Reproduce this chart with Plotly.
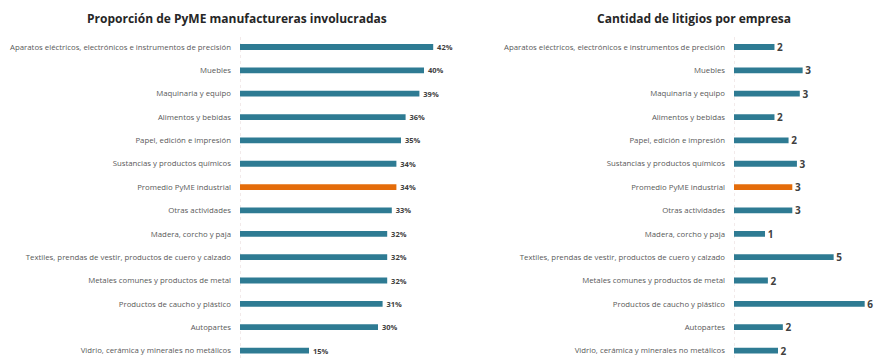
import plotly.graph_objects as go

# Sectors, top to bottom
sectores = [
    "Aparatos eléctricos, electrónicos e instrumentos de precisión",
    "Muebles",
    "Maquinaria y equipo",
    "Alimentos y bebidas",
    "Papel, edición e impresión",
    "Sustancias y productos químicos",
    "Promedio PyME industrial",
    "Otras actividades",
    "Madera, corcho y paja",
    "Textiles, prendas de vestir, productos de cuero y calzado",
    "Metales comunes y productos de metal",
    "Productos de caucho y plástico",
    "Autopartes",
    "Vidrio, cerámica y minerales no metálicos",
]

# Share of manufacturing SMEs involved (%)
proporcion = [42, 40, 39, 36, 35, 34, 34, 33, 32, 32, 32, 31, 30, 15]

# Average number of lawsuits per firm
litigios = [1.84, 3.12, 2.99, 1.84, 2.48, 2.86, 2.65, 2.65, 1.41, 4.53, 1.54, 5.94, 2.22, 2.0]

PROMEDIO = "Promedio PyME industrial"
TEAL = "#2E7B93"
ORANGE = "#E46C0A"
colores = [ORANGE if s == PROMEDIO else TEAL for s in sectores]

W, H = 878, 358
FONT = "Open Sans"
NBSP = "\u00a0"

fig = go.Figure()

fig.add_trace(go.Bar(
    x=proporcion, y=sectores, orientation="h",
    marker=dict(color=colores, line=dict(width=0)),
    width=0.25,
    texttemplate=NBSP * 2 + "<b>%{x}%</b>", textposition="outside", cliponaxis=False,
    constraintext="none",
    textfont=dict(size=7.5, color="#404040", family=FONT),
    xaxis="x", yaxis="y", showlegend=False,
))

fig.add_trace(go.Bar(
    x=litigios, y=sectores, orientation="h",
    marker=dict(color=colores, line=dict(width=0)),
    width=0.25,
    texttemplate=NBSP + "<b>%{x:.0f}</b>", textposition="outside", cliponaxis=False,
    constraintext="none",
    textfont=dict(size=10, color="#404040", family=FONT),
    xaxis="x2", yaxis="y2", showlegend=False,
))

# Row geometry: first row centre and spacing in pixels
first_row, step = 47.0, 23.35
top_px = first_row - step / 2
ydom = [0, 1 - top_px / H]
yrange = [-0.5 + (H - top_px) / step, -0.5]

left_start, left_px_per = 240, 4.6
left_max = 47
right_start, right_px_per = 734, 22.0

common_y = dict(
    type="category", categoryorder="array", categoryarray=sectores,
    range=yrange, showgrid=False, zeroline=False, showline=False,
    ticks="", ticklabelstandoff=8,
    tickfont=dict(size=7.8, color="#595959", family=FONT),
    domain=ydom,
)
common_x = dict(showgrid=False, zeroline=False, showline=False,
                showticklabels=False, ticks="")

fig.update_layout(
    width=W, height=H,
    margin=dict(l=0, r=0, t=0, b=0),
    paper_bgcolor="white", plot_bgcolor="white",
    bargap=0.7,
    xaxis=dict(common_x, domain=[left_start / W, (left_start + left_max * left_px_per) / W],
               range=[0, left_max], anchor="y"),
    yaxis=dict(common_y, anchor="x"),
    xaxis2=dict(common_x, domain=[right_start / W, 1.0],
                range=[0, (W - right_start) / right_px_per], anchor="y2"),
    yaxis2=dict(common_y, anchor="x2"),
    annotations=[
        dict(text="<b>Proporción de PyME manufactureras involucradas</b>",
             x=237 / W, y=1 - 18 / H, xref="paper", yref="paper",
             xanchor="center", yanchor="middle", showarrow=False,
             font=dict(size=12, color="#262626", family=FONT)),
        dict(text="<b>Cantidad de litigios por empresa</b>",
             x=694 / W, y=1 - 18 / H, xref="paper", yref="paper",
             xanchor="center", yanchor="middle", showarrow=False,
             font=dict(size=12, color="#262626", family=FONT)),
    ],
    shapes=[
        dict(type="line", xref="x", yref="y domain", x0=0, x1=0, y0=0, y1=1,
             line=dict(color="#E6D6D6", width=1, dash="dot"), layer="below"),
        dict(type="line", xref="x2", yref="y2 domain", x0=0, x1=0, y0=0, y1=1,
             line=dict(color="#E6D6D6", width=1, dash="dot"), layer="below"),
    ],
)

fig.write_html("out.html")
